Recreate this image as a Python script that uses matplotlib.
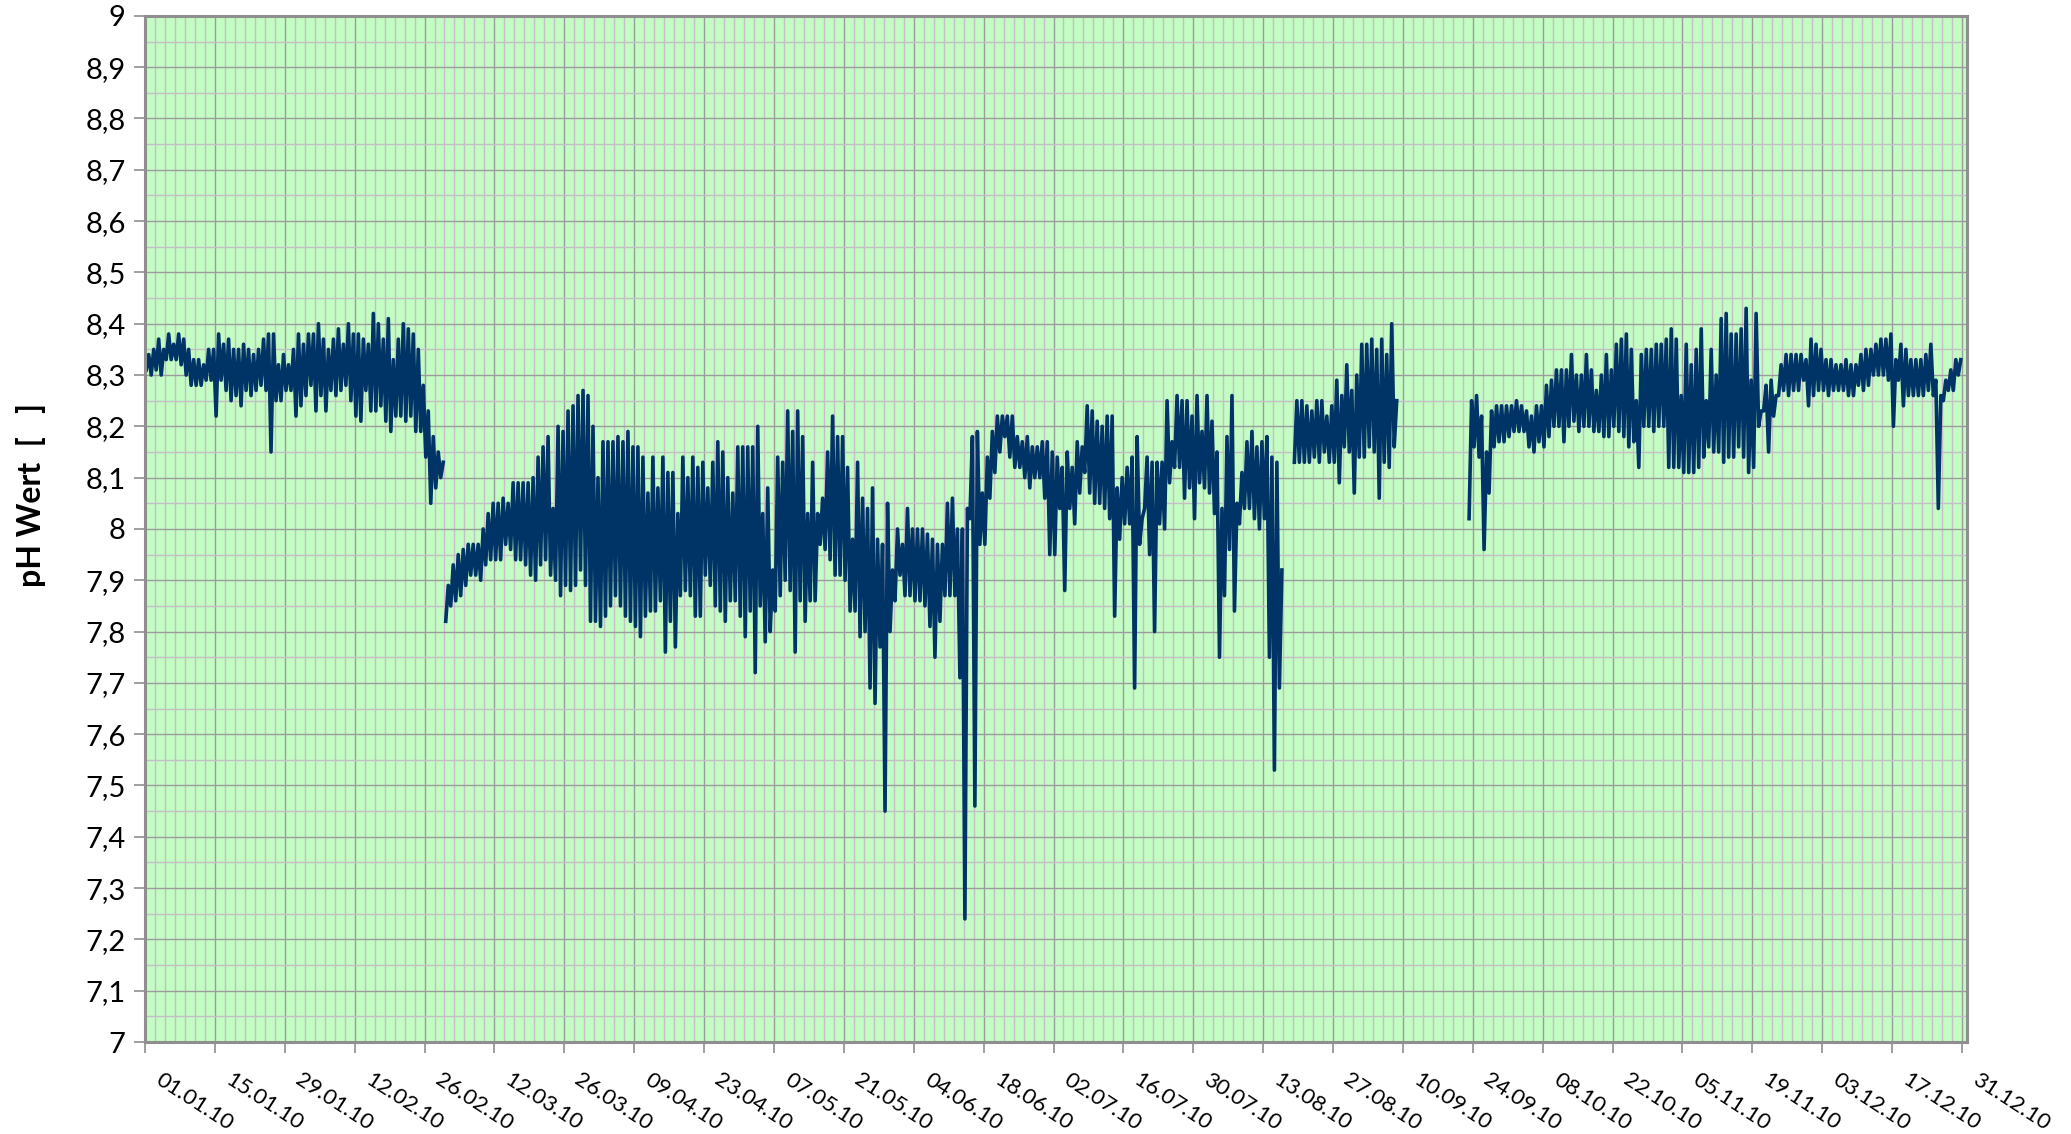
import numpy as np
import matplotlib
matplotlib.use("Agg")
import matplotlib.pyplot as plt
import matplotlib.dates as mdates
import matplotlib.transforms as mtrans
from matplotlib.ticker import MultipleLocator, FixedLocator, FuncFormatter

plt.rcParams['font.family'] = ['Lato', 'DejaVu Sans']

seg1_start = '2010-01-01'
seg1_high = [8.34, 8.35, 8.37, 8.35, 8.38, 8.36, 8.38, 8.37, 8.35, 8.33,
             8.33, 8.32, 8.35, 8.35, 8.38, 8.36, 8.37, 8.35, 8.35, 8.36,
             8.35, 8.34, 8.35, 8.37, 8.38, 8.38, 8.32, 8.34, 8.32, 8.35,
             8.38, 8.36, 8.38, 8.38, 8.40, 8.37, 8.35, 8.37, 8.39, 8.36,
             8.40, 8.38, 8.38, 8.37, 8.36, 8.42, 8.40, 8.37, 8.41, 8.33,
             8.37, 8.40, 8.39, 8.38, 8.35, 8.28, 8.23, 8.18, 8.15, 8.13]
seg1_low = [8.31, 8.30, 8.31, 8.30, 8.33, 8.33, 8.33, 8.32, 8.30, 8.28,
            8.28, 8.28, 8.29, 8.29, 8.22, 8.29, 8.27, 8.25, 8.26, 8.24,
            8.27, 8.26, 8.27, 8.28, 8.27, 8.15, 8.25, 8.25, 8.27, 8.27,
            8.22, 8.24, 8.26, 8.28, 8.23, 8.26, 8.23, 8.27, 8.26, 8.27,
            8.28, 8.25, 8.22, 8.21, 8.27, 8.23, 8.23, 8.24, 8.21, 8.19,
            8.22, 8.22, 8.21, 8.22, 8.19, 8.19, 8.14, 8.05, 8.08, 8.10]

seg2_start = '2010-03-02'
seg2_high = [7.89, 7.93, 7.95, 7.96, 7.97, 7.97, 7.97, 8.00, 8.03, 8.05,
             8.05, 8.06, 8.05, 8.09, 8.09, 8.09, 8.09, 8.10, 8.14, 8.16,
             8.18, 8.04, 8.20, 8.19, 8.23, 8.24, 8.26, 8.27, 8.26, 8.20,
             8.10, 8.17, 8.17, 8.17, 8.18, 8.17, 8.19, 8.16, 8.16, 8.14,
             8.07, 8.14, 8.08, 8.14, 8.11, 8.11, 8.03, 8.14, 8.10, 8.14,
             8.12, 8.13, 8.08, 8.13, 8.17, 8.15, 8.10, 8.07, 8.16, 8.16,
             8.16, 8.16, 8.20, 8.03, 8.08, 7.92, 8.14, 8.13, 8.23, 8.19,
             8.23, 8.18, 8.03, 8.13, 8.03, 8.06, 8.15, 8.22, 8.18, 8.18,
             8.12, 7.98, 8.13, 8.06, 8.04, 8.08, 7.98, 7.97, 8.05, 7.92,
             8.00, 7.97, 8.04, 8.00, 8.00, 8.00, 7.99, 7.98, 7.97, 7.97,
             8.05, 8.06, 8.00, 8.00, 8.04, 8.18, 8.19, 8.07, 8.14, 8.19,
             8.22, 8.22, 8.22, 8.22, 8.18, 8.17, 8.18, 8.16, 8.16, 8.17,
             8.17, 8.15, 8.14, 8.12, 8.15, 8.12, 8.17, 8.16, 8.24, 8.23,
             8.21, 8.20, 8.22, 8.22, 8.08, 8.10, 8.12, 8.14, 8.18, 8.02,
             8.14, 8.13, 8.13, 8.13, 8.25, 8.17, 8.26, 8.25, 8.25, 8.22,
             8.26, 8.19, 8.26, 8.21, 8.15, 8.04, 8.18, 8.26, 8.05, 8.11,
             8.17, 8.19, 8.16, 8.17, 8.18, 8.14, 8.13, 7.92]
seg2_low = [7.82, 7.85, 7.86, 7.87, 7.89, 7.91, 7.91, 7.90, 7.93, 7.94,
            7.94, 7.94, 7.97, 7.96, 7.94, 7.94, 7.93, 7.91, 7.90, 7.93,
            7.94, 7.91, 7.90, 7.87, 7.89, 7.88, 7.89, 7.92, 7.89, 7.82,
            7.82, 7.81, 7.83, 7.85, 7.87, 7.85, 7.83, 7.82, 7.81, 7.79,
            7.83, 7.84, 7.84, 7.86, 7.76, 7.82, 7.77, 7.87, 7.88, 7.87,
            7.83, 7.83, 7.91, 7.89, 7.85, 7.84, 7.82, 7.86, 7.86, 7.83,
            7.79, 7.84, 7.72, 7.85, 7.78, 7.80, 7.84, 7.87, 7.90, 7.88,
            7.76, 7.86, 7.82, 7.86, 7.86, 7.97, 7.96, 7.94, 7.91, 7.91,
            7.90, 7.84, 7.84, 7.79, 7.80, 7.69, 7.66, 7.77, 7.45, 7.80,
            7.86, 7.91, 7.87, 7.87, 7.86, 7.86, 7.85, 7.81, 7.75, 7.82,
            7.87, 7.87, 7.87, 7.71, 7.24, 8.02, 7.46, 7.97, 7.97, 8.06,
            8.11, 8.15, 8.18, 8.14, 8.12, 8.12, 8.10, 8.08, 8.10, 8.10,
            8.06, 7.95, 7.95, 8.04, 7.88, 8.04, 8.01, 8.07, 8.11, 8.07,
            8.05, 8.05, 8.04, 8.02, 7.83, 7.98, 8.01, 8.01, 7.69, 7.97,
            8.04, 7.95, 7.80, 8.01, 8.00, 8.09, 8.12, 8.12, 8.06, 8.08,
            8.02, 8.09, 8.08, 8.07, 8.03, 7.75, 7.87, 7.96, 7.84, 8.01,
            8.04, 8.04, 8.02, 8.00, 8.02, 7.75, 7.53, 7.69]

seg3_start = '2010-08-19'
seg3_high = [8.25, 8.25, 8.24, 8.23, 8.25, 8.25, 8.22, 8.24, 8.29, 8.26,
             8.32, 8.27, 8.30, 8.36, 8.36, 8.37, 8.35, 8.37, 8.34, 8.40,
             8.25]
seg3_low = [8.13, 8.13, 8.13, 8.13, 8.14, 8.13, 8.15, 8.13, 8.13, 8.09,
            8.16, 8.15, 8.07, 8.14, 8.14, 8.16, 8.15, 8.06, 8.13, 8.12,
            8.16]

seg4_start = '2010-09-23'
seg4_high = [8.25, 8.26, 8.22, 8.15, 8.23,
             8.24, 8.24, 8.24, 8.24, 8.25, 8.24, 8.23, 8.22, 8.24, 8.24,
             8.28, 8.29, 8.31, 8.31, 8.31, 8.34, 8.30, 8.30, 8.34, 8.31,
             8.27, 8.30, 8.34, 8.31, 8.36, 8.37, 8.38, 8.35, 8.25, 8.34,
             8.35, 8.35, 8.36, 8.36, 8.37, 8.39, 8.37, 8.26, 8.36, 8.32,
             8.35, 8.39, 8.25, 8.35, 8.30, 8.41, 8.42, 8.38, 8.38, 8.39,
             8.43, 8.29, 8.42, 8.23, 8.28, 8.29, 8.26, 8.32, 8.34, 8.34,
             8.34, 8.34, 8.33, 8.37, 8.36, 8.35, 8.33, 8.33, 8.32, 8.32,
             8.33, 8.32, 8.32, 8.34, 8.35, 8.35, 8.36, 8.37, 8.37, 8.38,
             8.33, 8.36, 8.35, 8.33, 8.33, 8.33, 8.34, 8.36, 8.29, 8.26,
             8.29, 8.31, 8.33, 8.33]
seg4_low = [8.02, 8.16, 8.14, 7.96, 8.07,
            8.16, 8.17, 8.17, 8.18, 8.19, 8.19, 8.19, 8.16, 8.15, 8.17,
            8.16, 8.18, 8.20, 8.20, 8.17, 8.20, 8.21, 8.19, 8.20, 8.20,
            8.19, 8.19, 8.18, 8.18, 8.20, 8.19, 8.18, 8.16, 8.17, 8.12,
            8.20, 8.20, 8.19, 8.20, 8.20, 8.12, 8.12, 8.12, 8.11, 8.11,
            8.11, 8.12, 8.14, 8.16, 8.15, 8.15, 8.13, 8.14, 8.14, 8.16,
            8.14, 8.11, 8.12, 8.20, 8.23, 8.15, 8.22, 8.26, 8.27, 8.26,
            8.27, 8.27, 8.29, 8.24, 8.26, 8.27, 8.27, 8.26, 8.27, 8.27,
            8.27, 8.26, 8.26, 8.28, 8.27, 8.28, 8.30, 8.30, 8.30, 8.29,
            8.20, 8.29, 8.24, 8.26, 8.26, 8.26, 8.26, 8.27, 8.26, 8.04,
            8.25, 8.27, 8.27, 8.30]


def zigzag(start, high, low):
    d0 = mdates.date2num(np.datetime64(start))
    days = d0 + np.arange(len(high))
    t = np.column_stack([days + 0.25, days + 0.75]).ravel()
    v = np.column_stack([low, high]).ravel()
    return t, v


ts, vs = [], []
for start, hi, lo in [(seg1_start, seg1_high, seg1_low),
                      (seg2_start, seg2_high, seg2_low),
                      (seg3_start, seg3_high, seg3_low),
                      (seg4_start, seg4_high, seg4_low)]:
    t, v = zigzag(start, hi, lo)
    ts += [t, [np.nan]]
    vs += [v, [np.nan]]
t = np.concatenate(ts)
v = np.concatenate(vs)

fig = plt.figure(figsize=(20.71, 11.34), dpi=100)
ax = fig.add_axes([0.0700, 0.0811, 0.8798, 0.9049])
ax.set_facecolor('#c3fdc3')

ax.plot(t, v, color='#003366', lw=2.6, solid_joinstyle='round')

x0 = mdates.date2num(np.datetime64('2010-01-01'))
ax.set_xlim(x0, x0 + 365)
ax.set_ylim(7, 9)

ax.xaxis.set_major_locator(FixedLocator(x0 + np.arange(0, 365, 14)))
ax.xaxis.set_minor_locator(FixedLocator(x0 + np.arange(0, 366, 2)))
ax.xaxis.set_major_formatter(mdates.DateFormatter('%d.%m.%y'))
ax.yaxis.set_major_locator(MultipleLocator(0.1))
ax.yaxis.set_minor_locator(MultipleLocator(0.05))
ax.yaxis.set_major_formatter(FuncFormatter(lambda y, p: ('%g' % round(y, 1)).replace('.', ',')))

ax.set_axisbelow(True)
ax.grid(which='minor', color='#c6bec6', lw=1.0)
ax.grid(which='major', color='#9c9c9c', lw=1.0)

for s in ax.spines.values():
    s.set_color('#8f8f8f')
    s.set_linewidth(2.2)

ax.tick_params(which='major', length=8, width=1.2, color='#8f8f8f')
ax.tick_params(which='minor', length=0)
ax.tick_params(axis='y', labelsize=21, pad=6)
ax.tick_params(axis='x', labelsize=16, pad=12)
shift = mtrans.ScaledTranslation(7 / 100, 0, fig.dpi_scale_trans)
for lab in ax.get_xticklabels():
    lab.set_rotation(-33)
    lab.set_ha('left')
    lab.set_va('top')
    lab.set_transform(lab.get_transform() + shift)

ax.set_ylabel('pH Wert  [   ]', fontsize=23, fontweight='bold')
ax.yaxis.set_label_coords(-0.0545, 0.533)

fig.savefig('out.png', dpi=100)
